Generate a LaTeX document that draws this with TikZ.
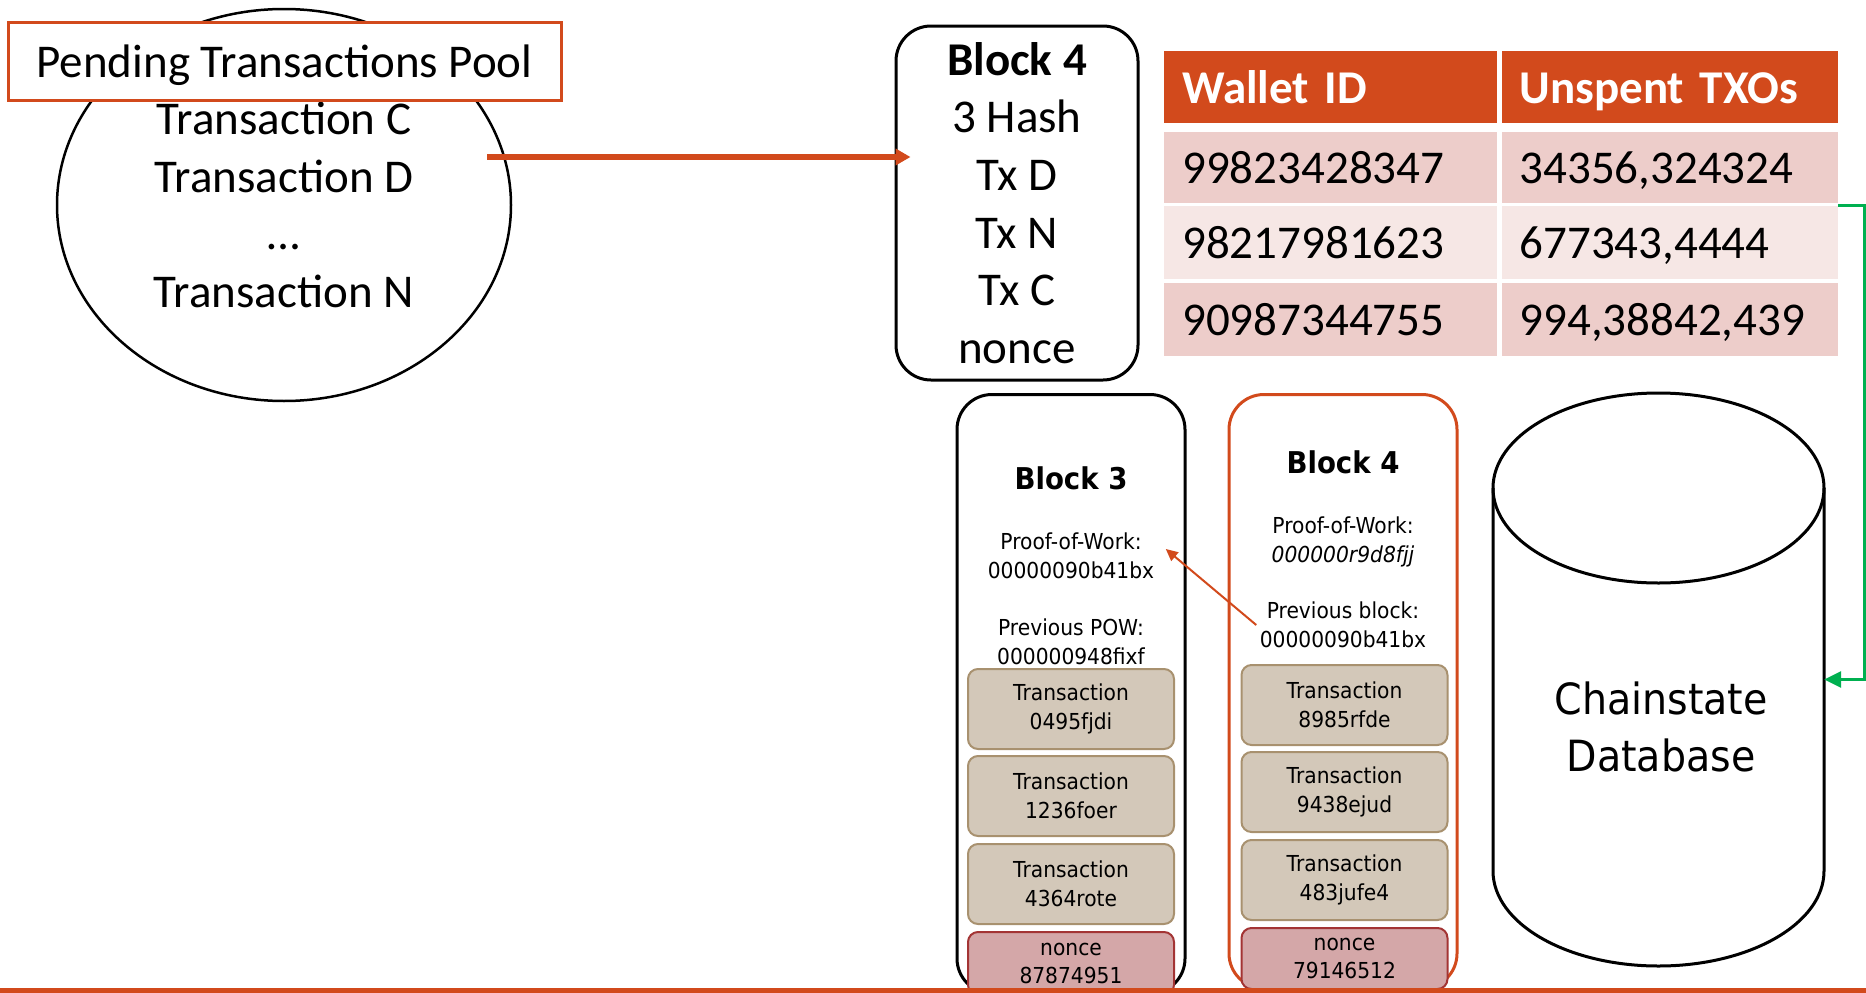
\documentclass[tikz,border=0pt]{standalone}
\usepackage{fontspec}
\setmainfont{Carlito}
\newfontfamily\tahfont[FakeStretch=0.92]{DejaVu Sans}
\usetikzlibrary{arrows.meta,positioning,shapes.geometric}

\definecolor{redorange}{HTML}{D24A1C}
\definecolor{okgreen}{HTML}{00B050}
\definecolor{bandA}{HTML}{EDCDCA}
\definecolor{bandB}{HTML}{F6E7E5}
\definecolor{txfill}{HTML}{D3C8B9}
\definecolor{txdraw}{HTML}{A8916F}
\definecolor{ncfill}{HTML}{D4A7A8}
\definecolor{ncdraw}{HTML}{A33434}

\tikzset{
  bigtext/.style={font=\fontsize{47}{57.6}\selectfont, align=center},
  smalltext/.style={font=\tahfont\fontsize{22}{28.5}\selectfont, align=center},
  titletext/.style={font=\tahfont\bfseries\fontsize{30}{36}\selectfont},
  cell/.style={bigtext, align=left, inner xsep=18pt, inner ysep=0pt, text height=40pt, text depth=8pt, minimum height=#1},
  colA/.style={text width=297pt},
  colB/.style={text width=300pt},
  head/.style={fill=redorange, text=white, font=\bfseries\fontsize{47}{57.6}\selectfont},
  chain/.style={draw, line width=3pt, rounded corners=35pt, minimum width=228pt, anchor=north},
  txbox/.style={smalltext, draw=txdraw, fill=txfill, line width=2pt, rounded corners=10pt, minimum width=206pt, minimum height=80pt, inner sep=0pt},
  noncebox/.style={txbox, draw=ncdraw, fill=ncfill, minimum height=62pt},
  hasharrow/.style={-{Triangle[length=12pt,width=11pt]}, redorange, line width=2pt},
  mainarrow/.style={-{Triangle[length=15pt,width=16pt]}, redorange, line width=5.5pt},
  dbarrow/.style={-{Triangle[length=17pt,width=16pt]}, okgreen, line width=3pt},
}

\begin{document}
\begin{tikzpicture}[x=1pt, y=-1pt]
  \useasboundingbox (0,0) rectangle (1866,993);

  % pending pool
  \node[ellipse, draw, line width=2.5pt, minimum width=454pt, minimum height=392pt, bigtext] (pool) at (284,205) {Transaction C\\Transaction D\\…\\Transaction N};
  \node[draw=redorange, fill=white, line width=3pt, minimum width=553pt, minimum height=78pt, text height=40pt, text depth=8pt, bigtext] (pooltitle) at (284.5,61) {Pending Transactions Pool};

  % block being built
  \node[draw, line width=3pt, rounded corners=35pt, minimum width=242pt, minimum height=354pt, bigtext] (newblock) at (1017,203) {\textbf{Block 4}\\3 Hash\\Tx D\\Tx N\\Tx C\\nonce};
  \coordinate (poolout) at (487,157);
  \draw[mainarrow, shorten >=-16pt] (poolout) -- (newblock.west |- poolout);

  % UTXO table
  \node[cell=72, head, colA, anchor=north west] (hA) at (1164,51) {Wallet ID};
  \node[cell=72, head, colB, right=4pt of hA] (hB) {Unspent TXOs};
  \node[cell=71, fill=bandA, colA, below=8pt of hA] (r1a) {99823428347};
  \node[cell=71, fill=bandA, colB, right=4pt of r1a] (r1b) {34356,324324};
  \node[cell=73, fill=bandB, colA, below=3pt of r1a] (r2a) {98217981623};
  \node[cell=73, fill=bandB, colB, right=4pt of r2a] (r2b) {677343,4444};
  \node[cell=73, fill=bandA, colA, below=4pt of r2a] (r3a) {90987344755};
  \node[cell=73, fill=bandA, colB, right=4pt of r3a] (r3b) {994,38842,439};

  % chain
  \node[chain, minimum height=599pt] (blk3) at (1071,393) {};
  \node[chain, draw=redorange, minimum height=594pt] (blk4) at (1343,393) {};
  \node[titletext, anchor=base] (title3) at (1071,489) {Block 3};
  \node[titletext, anchor=base] (title4) at (1343,473) {Block 4};
  \node[smalltext] (pow3) at (1071,556) {Proof-of-Work:\\00000090b41bx};
  \node[smalltext] (prev3) at (1071,642) {Previous POW:\\000000948fixf};
  \node[smalltext] (pow4) at (1343,542) {Proof-of-Work:\\\textit{000000r9d8fjj}};
  \node[smalltext] (prev4) at (1343,625) {Previous block:\\00000090b41bx};

  \node[txbox, anchor=north] (tx3a) at (1071,668) {Transaction\\0495fjdi};
  \node[txbox, below=5pt of tx3a] (tx3b) {Transaction\\1236foer};
  \node[txbox, below=6pt of tx3b] (tx3c) {Transaction\\4364rote};
  \node[noncebox, below=6pt of tx3c, minimum height=63pt] (nonce3) {nonce\\87874951};

  \node[txbox, anchor=north] (tx4a) at (1344.5,664) {Transaction\\8985rfde};
  \node[txbox, below=5pt of tx4a] (tx4b) {Transaction\\9438ejud};
  \node[txbox, below=6pt of tx4b] (tx4c) {Transaction\\483jufe4};
  \node[noncebox, below=6pt of tx4c, minimum height=61pt] (nonce4) {nonce\\79146512};

  \draw[hasharrow] (prev4.west) -- ([shift={(8,-7)}]pow3.east);

  % chainstate database
  \node[minimum width=331pt, minimum height=573pt] (db) at (1658.5,679.5) {};
  \draw[line width=3pt] (1658.5,488) ellipse [x radius=165.5pt, y radius=95pt];
  \draw[line width=3pt] (1493,488) -- (1493,871) arc[start angle=180, end angle=360, x radius=165.5pt, y radius=95pt] -- (1824,488);
  \node[font=\tahfont\fontsize{43}{57.5}\selectfont, align=center] (dbtext) at (1661,727) {Chainstate\\Database};
  \draw[dbarrow] (r2b.north east) -- ++(27,0) |- (db.east);

  \draw[redorange, line width=5pt] (0,990.5) -- (1866,990.5);
\end{tikzpicture}
\end{document}
